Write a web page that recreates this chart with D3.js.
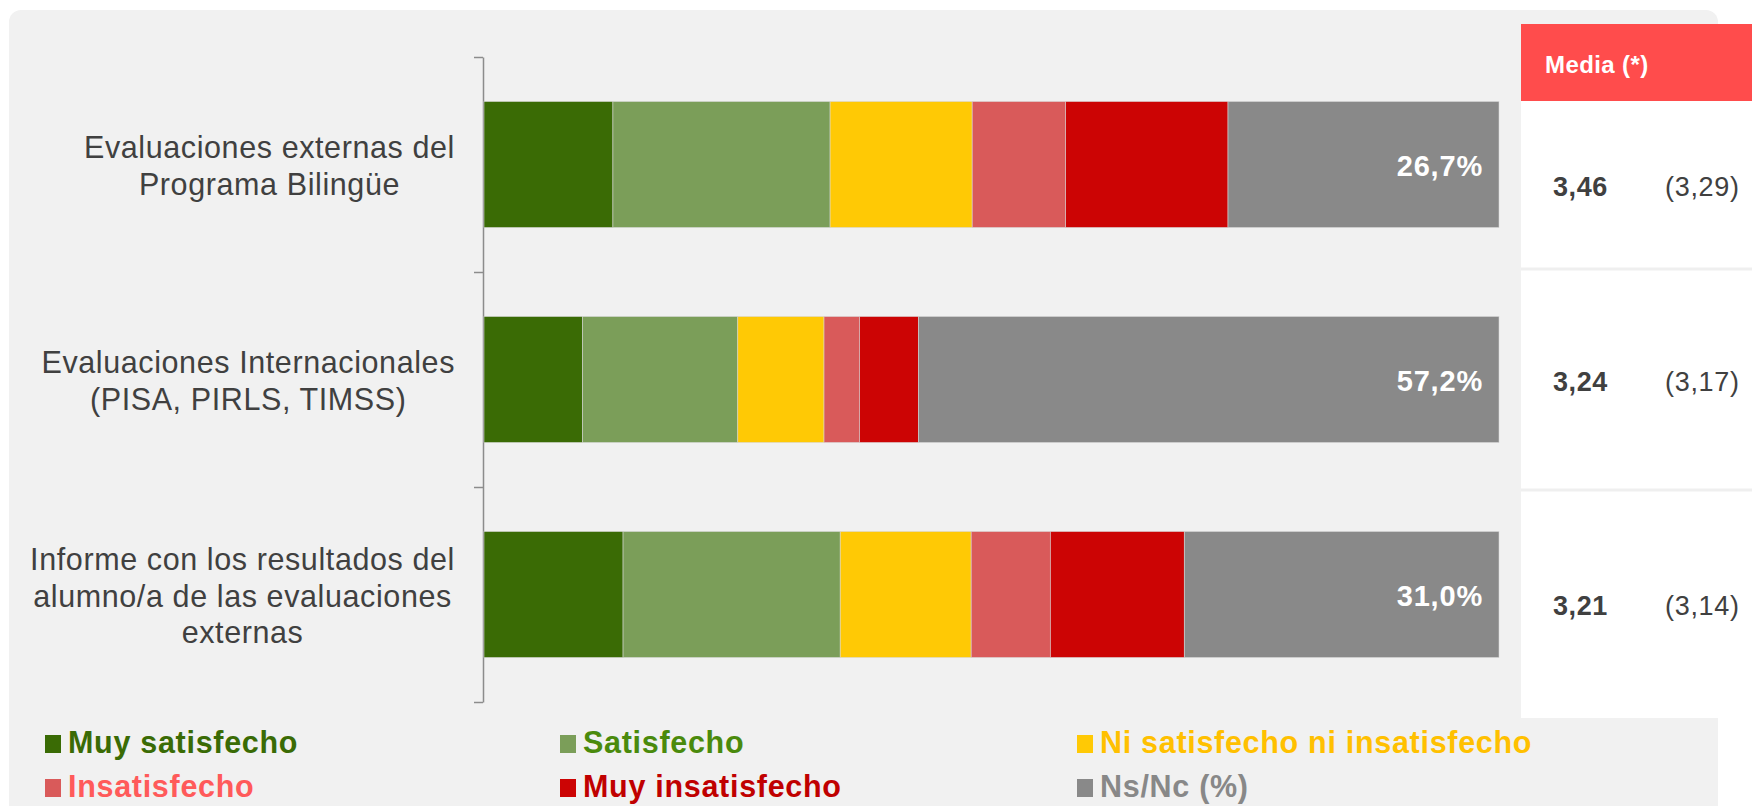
<!DOCTYPE html>
<html>
<head>
<meta charset="utf-8">
<script src="https://cdn.jsdelivr.net/npm/d3@7"></script>
<style>
  body { margin: 0; background: #fff; }
  svg { display: block; font-family: Arial, "Liberation Sans", sans-serif; }
</style>
</head>
<body>
<div id="chart"></div>
<script>
// categories (y axis), each label split in lines as in the original
var categories = ["ext", "int", "inf"];
var catLines = [
  ["Evaluaciones externas del", "Programa Bilingüe"],
  ["Evaluaciones Internacionales", "(PISA, PIRLS, TIMSS)"],
  ["Informe con los resultados del", "alumno/a de las evaluaciones", "externas"]
];

// series (%)
var seriesKeys = ["muySat", "sat", "ni", "insat", "muyInsat", "nsnc"];
var seriesNames = ["Muy satisfecho", "Satisfecho", "Ni satisfecho ni insatisfecho", "Insatisfecho", "Muy insatisfecho", "Ns/Nc (%)"];
var muySat   = [12.7, 9.7, 13.7];
var sat      = [21.4, 15.3, 21.4];
var ni       = [14.0, 8.5, 12.9];
var insat    = [9.2, 3.5, 7.8];
var muyInsat = [16.0, 5.8, 13.2];
var nsnc     = [26.7, 57.2, 31.0];

// table: mean and (previous)
var medias = ["3,46", "3,24", "3,21"];
var mediasPrev = ["(3,29)", "(3,17)", "(3,14)"];

var barColors = ["#3a6b05", "#7b9e59", "#ffc905", "#d95a5a", "#cc0404", "#898989"];
var textColors = ["#3a6b05", "#4a8a0c", "#ffc000", "#ff5a5a", "#c00000", "#888888"];

var W = 1752, H = 806;

var data = categories.map(function(c, i) {
  return { cat: c, muySat: muySat[i], sat: sat[i], ni: ni[i], insat: insat[i], muyInsat: muyInsat[i], nsnc: nsnc[i] };
});

var svg = d3.select("#chart").append("svg")
  .attr("width", W).attr("height", H);

// background panel
svg.append("rect")
  .attr("x", 9).attr("y", 10)
  .attr("width", 1709).attr("height", 820)
  .attr("rx", 12).attr("ry", 12)
  .attr("fill", "#f1f1f1");

var y = d3.scaleBand()
  .domain(categories)
  .range([57, 702])
  .paddingInner(0.414)
  .paddingOuter(0.207);

var x = d3.scaleLinear()
  .domain([0, 100])
  .range([484, 1499]);

// axis with ticks at band boundaries
var yb = d3.scaleLinear().domain([0, categories.length]).range([57, 702]);
var axis = svg.append("g")
  .attr("transform", "translate(483,0)")
  .call(d3.axisLeft(yb).tickValues(d3.range(categories.length + 1)).tickFormat("").tickSize(9).tickSizeOuter(0));
axis.select(".domain").attr("stroke", "#8c8c8c").attr("stroke-width", 1.5);
axis.selectAll(".tick line").attr("stroke", "#8c8c8c").attr("stroke-width", 1.5);

var stack = d3.stack().keys(seriesKeys);
var layers = stack(data);

svg.append("g").selectAll("g")
  .data(layers).enter().append("g")
  .attr("fill", function(d, i) { return barColors[i]; })
  .selectAll("rect")
  .data(function(d) { return d; }).enter().append("rect")
  .attr("x", function(d) { return x(d[0]); })
  .attr("width", function(d) { return x(d[1]) - x(d[0]); })
  .attr("y", function(d) { return y(d.data.cat); })
  .attr("height", y.bandwidth())
  .attr("stroke", "#d8d8d8")
  .attr("stroke-width", 0.8)
  .attr("stroke-opacity", 0.7);

// Ns/Nc labels
var fmt = function(v) { return d3.format(".1f")(v).replace(".", ",") + "%"; };
svg.append("g").selectAll("text")
  .data(data).enter().append("text")
  .attr("x", x(100) - 16)
  .attr("y", function(d) { return y(d.cat) + y.bandwidth() / 2; })
  .attr("dy", "0.38em")
  .attr("text-anchor", "end")
  .attr("fill", "#fff")
  .attr("font-weight", "bold")
  .attr("font-size", 29)
  .attr("letter-spacing", "0.8px")
  .text(function(d) { return fmt(d.nsnc); });

// category labels (centered block, right aligned to the axis)
var lh = 36.5;
categories.forEach(function(c, i) {
  var lines = catLines[i];
  var g = svg.append("g");
  var cy = y(c) + y.bandwidth() / 2 + 1.5;
  var texts = g.selectAll("text").data(lines).enter().append("text")
    .attr("y", function(d, j) { return cy + (j - (lines.length - 1) / 2) * lh; })
    .attr("dy", "0.35em")
    .attr("text-anchor", "middle")
    .attr("font-size", 30.5)
    .attr("letter-spacing", "0.6px")
    .attr("fill", "#404040")
    .text(function(d) { return d; });
  var maxW = d3.max(texts.nodes(), function(n) { return n.getComputedTextLength(); });
  texts.attr("x", 455 - maxW / 2);
});

// right table
var tbl = svg.append("g");
tbl.append("rect")
  .attr("x", 1521).attr("y", 24)
  .attr("width", W - 1521).attr("height", 718 - 24)
  .attr("fill", "#fff");
tbl.append("rect")
  .attr("x", 1521).attr("y", 24)
  .attr("width", W - 1521).attr("height", 77)
  .attr("fill", "#ff3e3e").attr("fill-opacity", 0.93);
tbl.append("text")
  .attr("x", 1545).attr("y", 73)
  .attr("fill", "#fff").attr("font-weight", "bold").attr("font-size", 24)
  .attr("letter-spacing", "0.4px")
  .text("Media (*)");

var rowEdges = [101, 269, 490, 718];
tbl.selectAll("line.sep")
  .data(rowEdges.slice(1, -1)).enter().append("line")
  .attr("class", "sep")
  .attr("x1", 1521).attr("x2", W)
  .attr("y1", function(d) { return d; }).attr("y2", function(d) { return d; })
  .attr("stroke", "#efefef").attr("stroke-width", 3);

tbl.selectAll("text.media")
  .data(medias).enter().append("text")
  .attr("class", "media")
  .attr("x", 1553)
  .attr("y", function(d, i) { return (rowEdges[i] + rowEdges[i + 1]) / 2 + 2; })
  .attr("dy", "0.35em")
  .attr("font-weight", "bold").attr("font-size", 27)
  .attr("letter-spacing", "0.6px")
  .attr("fill", "#404040")
  .text(function(d) { return d; });

tbl.selectAll("text.prev")
  .data(mediasPrev).enter().append("text")
  .attr("class", "prev")
  .attr("x", 1665)
  .attr("y", function(d, i) { return (rowEdges[i] + rowEdges[i + 1]) / 2 + 2; })
  .attr("dy", "0.35em")
  .attr("font-size", 27)
  .attr("letter-spacing", "0.7px")
  .attr("fill", "#404040")
  .text(function(d) { return d; });

// legend
var legX = [45, 560, 1077], legY = [753, 797];
var leg = svg.append("g").selectAll("g")
  .data(seriesNames).enter().append("g")
  .attr("transform", function(d, i) { return "translate(" + legX[i % 3] + "," + legY[Math.floor(i / 3)] + ")"; });
leg.append("rect")
  .attr("x", 0).attr("y", -18)
  .attr("width", 16).attr("height", 18)
  .attr("fill", function(d, i) { return barColors[i]; });
leg.append("text")
  .attr("x", 23).attr("y", 0)
  .attr("font-weight", "bold").attr("font-size", 30.5)
  .attr("letter-spacing", "0.7px")
  .attr("fill", function(d, i) { return textColors[i]; })
  .text(function(d) { return d; });
</script>
</body>
</html>
